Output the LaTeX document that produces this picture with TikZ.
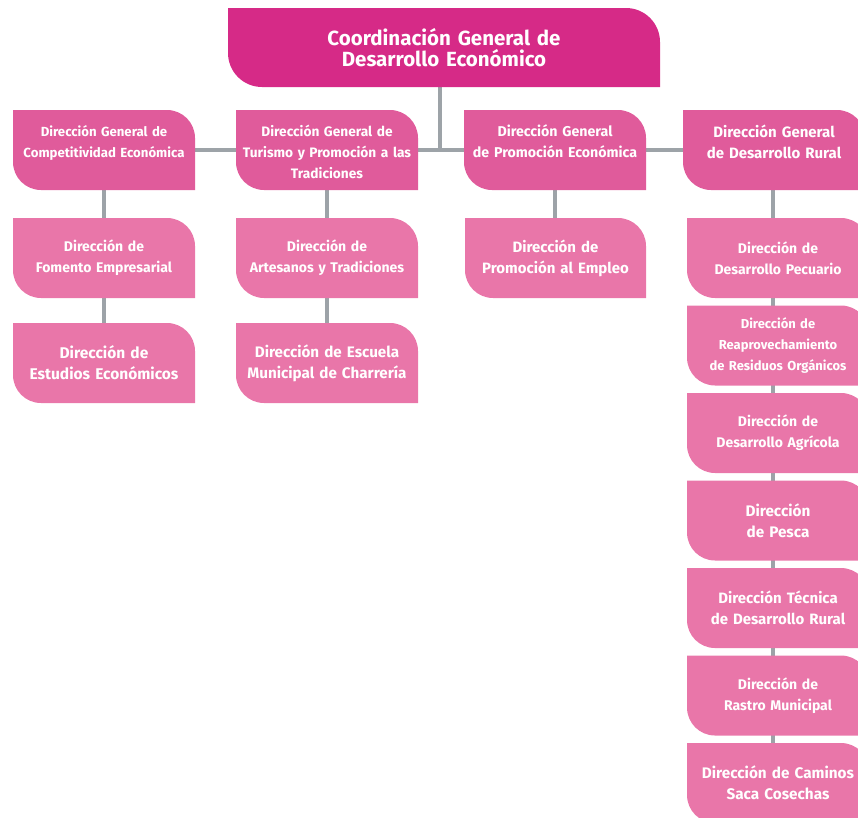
\documentclass[tikz,border=0pt]{standalone}
\usepackage{fontspec}
\setmainfont{Fira Sans}
\usetikzlibrary{backgrounds}

\definecolor{coordfill}{HTML}{D62A87}
\definecolor{dirgenfill}{HTML}{E05B9B}
\definecolor{dirfill}{HTML}{E976A9}
\definecolor{linkgray}{HTML}{9DA3A8}

\newcommand{\toptext}[1]{\parbox[c][50pt][t]{178pt}{\centering #1}}

\tikzset{
    unit/.style 2 args={text=white, align=center, inner sep=0pt,
        minimum width=182pt, minimum height=80pt, text width=180pt,
        font=\bfseries\fontsize{14}{21}\selectfont,
        path picture={\fill[#1] (path picture bounding box.north west)
            -- ([xshift=-#2]path picture bounding box.north east)
            arc[start angle=90, end angle=0, radius=#2]
            -- (path picture bounding box.south east)
            -- ([xshift=#2]path picture bounding box.south west)
            arc[start angle=270, end angle=180, radius=#2] -- cycle;}},
    coord/.style={unit={coordfill}{34pt}, minimum width=432pt, minimum height=79pt,
        text width=420pt, font=\bfseries\fontsize{20.5}{21}\selectfont},
    dirgen/.style={unit={dirgenfill}{28pt}},
    dir/.style={unit={dirfill}{28pt}},
    fs/.style={font=\bfseries\fontsize{#1}{21}\selectfont},
    link/.style={draw=linkgray, line width=4pt},
}

\begin{document}
\begin{tikzpicture}[x=1pt, y=1pt]
    \useasboundingbox (0,0) rectangle (858,-817);

    \node[coord] (coord) at (444,-47.5) {Coordinación General de\\ Desarrollo Económico};

    \node[dirgen, fs=13.2] (dgcomp) at (104,-150) {\toptext{Dirección General de\\ Competitividad Económica}};
    \node[dirgen, fs=13.7] (dgtur) at (327,-150) {\toptext{Dirección General de\\ Turismo y Promoción a las\\ Tradiciones}};
    \node[dirgen, fs=14.2] (dgprom) at (555,-150) {\toptext{Dirección General\\ de Promoción Económica}};
    \node[dirgen, fs=15] (dgrural) at (774,-150) {\toptext{Dirección General\\ de Desarrollo Rural}};

    \node[dir] (fomento) at (104,-258) {Dirección de\\ Fomento Empresarial};
    \node[dir, fs=15.5] (estudios) at (104,-363) {Dirección de\\ Estudios Económicos};
    \node[dir] (artesanos) at (327,-258) {Dirección de\\ Artesanos y Tradiciones};
    \node[dir, fs=15.2] (charreria) at (327,-363) {Dirección de Escuela\\ Municipal de Charrería};
    \node[dir, fs=15, minimum width=181pt] (empleo) at (555.5,-258) {Dirección de\\ Promoción al Empleo};

    \node[dir] (pecuario) at (778,-258) {Dirección de\\ Desarrollo Pecuario};
    \node[dir, fs=13] (residuos) at (778,-345.5) {Dirección de\\ Reaprovechamiento\\ de Residuos Orgánicos};
    \node[dir] (agricola) at (778,-433) {Dirección de\\ Desarrollo Agrícola};
    \node[dir, fs=15.3] (pesca) at (778,-520.5) {Dirección\\ de Pesca};
    \node[dir, fs=15] (tecnica) at (778,-608) {Dirección Técnica\\ de Desarrollo Rural};
    \node[dir] (rastro) at (778,-695.5) {Dirección de\\ Rastro Municipal};
    \node[dir, fs=15.3] (caminos) at (778,-783) {Dirección de Caminos\\ Saca Cosechas};

    \begin{scope}[on background layer]
        \draw[link] ([xshift=-4pt]coord.south) -- ([xshift=-4pt]coord.south |- dgtur.east);
        \draw[link] (dgcomp) -- (dgtur) -- (dgprom) -- (dgrural);
        \draw[link] (dgcomp) -- (fomento) -- (estudios);
        \draw[link] (dgtur) -- (artesanos) -- (charreria);
        \draw[link] (dgprom) -- (dgprom |- empleo);
        \draw[link] ([xshift=-1pt]dgrural.center) -- ([xshift=-1pt]dgrural.center |- caminos);
    \end{scope}
\end{tikzpicture}
\end{document}
